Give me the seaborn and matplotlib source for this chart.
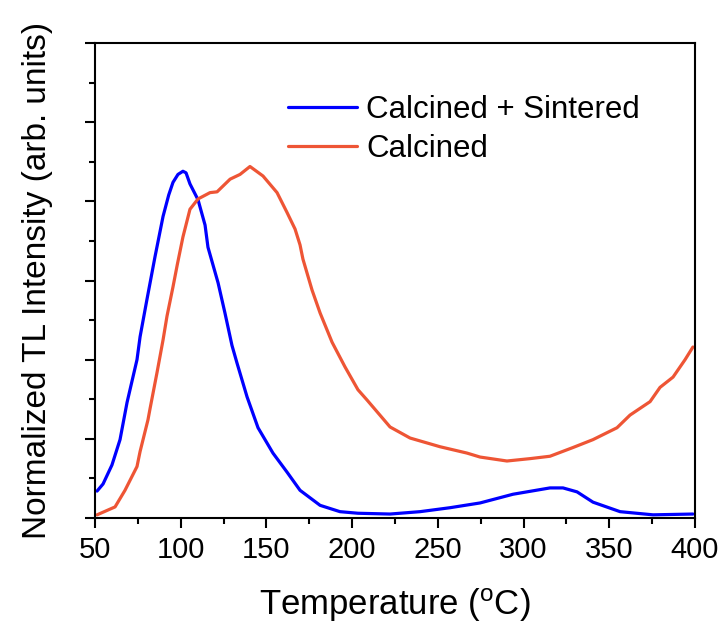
import numpy as np
import pandas as pd
import matplotlib
matplotlib.use("Agg")
import matplotlib.pyplot as plt
from matplotlib.ticker import MultipleLocator, NullFormatter
import seaborn as sns

# Calcined + Sintered (blue)
temp_cs = [51.2, 54.7, 59.9, 64.6, 68.7, 74.5, 76.3, 80.3, 85.0, 89.7, 93.0, 95.5, 98.4,
           101.3, 103.1, 105.4, 110.1, 114.2, 115.9, 121.8, 125.8, 129.9, 132.8,
           138.7, 145.1, 153.8, 162.0, 169.6, 181.3, 192.9, 203.4, 222.1, 239.6,
           257.1, 274.6, 293.8, 315.4, 323.0, 331.2, 340.5, 356.3, 375.5, 398.8]
int_cs = [0.34, 0.43, 0.67, 0.99, 1.46, 2.00, 2.29, 2.76, 3.30, 3.81, 4.08, 4.24, 4.34,
          4.38, 4.36, 4.22, 4.02, 3.70, 3.42, 2.97, 2.59, 2.18, 1.96,
          1.53, 1.14, 0.82, 0.58, 0.35, 0.16, 0.08, 0.06, 0.05, 0.08,
          0.13, 0.19, 0.30, 0.38, 0.38, 0.33, 0.20, 0.08, 0.04, 0.05]

# Calcined (red)
temp_c = [51.2, 61.7, 67.5, 74.5, 76.3, 80.9, 82.1, 86.2, 89.7, 92.0, 95.5, 98.0,
          101.3, 105.4, 110.1, 117.1, 121.2, 128.8, 134.6, 140.4, 148.0, 156.2,
          162.0, 166.7, 169.6, 171.3, 176.6, 181.3, 188.3, 195.8, 203.4, 208.7,
          222.1, 233.8, 251.3, 267.0, 274.6, 290.3, 303.8, 315.4, 328.8, 340.5,
          354.5, 362.1, 373.8, 379.6, 387.2, 394.2, 398.8]
int_c = [0.04, 0.14, 0.35, 0.65, 0.84, 1.24, 1.38, 1.84, 2.25, 2.55, 2.92, 3.20,
         3.55, 3.90, 4.03, 4.11, 4.12, 4.28, 4.34, 4.44, 4.32, 4.11,
         3.86, 3.65, 3.45, 3.27, 2.88, 2.59, 2.22, 1.91, 1.62, 1.49,
         1.15, 1.01, 0.90, 0.82, 0.77, 0.72, 0.75, 0.78, 0.89, 0.99,
         1.14, 1.30, 1.47, 1.65, 1.78, 2.00, 2.16]

labels = ["Calcined + Sintered", "Calcined"]
colors = ["#0000FF", "#EE5535"]
x_ticks = [50, 100, 150, 200, 250, 300, 350, 400]

df = pd.concat([
    pd.DataFrame({"T": temp_cs, "I": int_cs, "Sample": labels[0]}),
    pd.DataFrame({"T": temp_c, "I": int_c, "Sample": labels[1]}),
], ignore_index=True)

sns.set_style("ticks")
plt.rcParams["font.family"] = ["Liberation Sans", "DejaVu Sans"]
plt.rcParams["text.color"] = "black"
plt.rcParams["axes.labelcolor"] = "black"
plt.rcParams["xtick.color"] = "black"
plt.rcParams["ytick.color"] = "black"

fig = plt.figure(figsize=(7.25, 6.25), dpi=100)
ax = fig.add_axes([95 / 725, 1 - 518 / 625, 600 / 725, 475 / 625])

sns.lineplot(data=df, x="T", y="I", hue="Sample", hue_order=labels,
             palette=dict(zip(labels, colors)), sort=False, estimator=None,
             linewidth=2.3, ax=ax)

ax.set_xlim(50, 400)
ax.set_ylim(0, 6)
ax.set_xticks(x_ticks)
ax.set_xticklabels([str(t) for t in x_ticks])
ax.xaxis.set_minor_locator(MultipleLocator(25))
ax.yaxis.set_major_locator(MultipleLocator(1))
ax.yaxis.set_minor_locator(MultipleLocator(0.5))
ax.yaxis.set_major_formatter(NullFormatter())

for s in ax.spines.values():
    s.set_visible(True)
    s.set_linewidth(1.5)
    s.set_color("black")

ax.tick_params(axis="both", which="major", direction="out", length=7, width=1.5,
               labelsize=21, colors="black", labelcolor="black", top=False, right=False)
ax.tick_params(axis="both", which="minor", direction="out", length=4, width=1.5,
               colors="black", top=False, right=False)
ax.tick_params(axis="x", which="major", pad=6)

ax.set_xlabel("Temperature ($\\mathregular{^{o}}$C)", fontsize=25, labelpad=16, color="black")
ax.set_ylabel("Normalized TL Intensity (arb. units)", fontsize=24, labelpad=20, color="black")

leg = ax.legend(loc="upper left", bbox_to_anchor=(288 / 725, 1 - 95 / 625),
                bbox_transform=fig.transFigure, frameon=False, fontsize=22.5,
                handlelength=2.2, handletextpad=0.3, labelspacing=0.28,
                borderpad=0, borderaxespad=0)
for t in leg.get_texts():
    t.set_color("black")
for h in leg.get_lines():
    h.set_linewidth(2.3)

fig.savefig("out.png", dpi=100, facecolor="white")
